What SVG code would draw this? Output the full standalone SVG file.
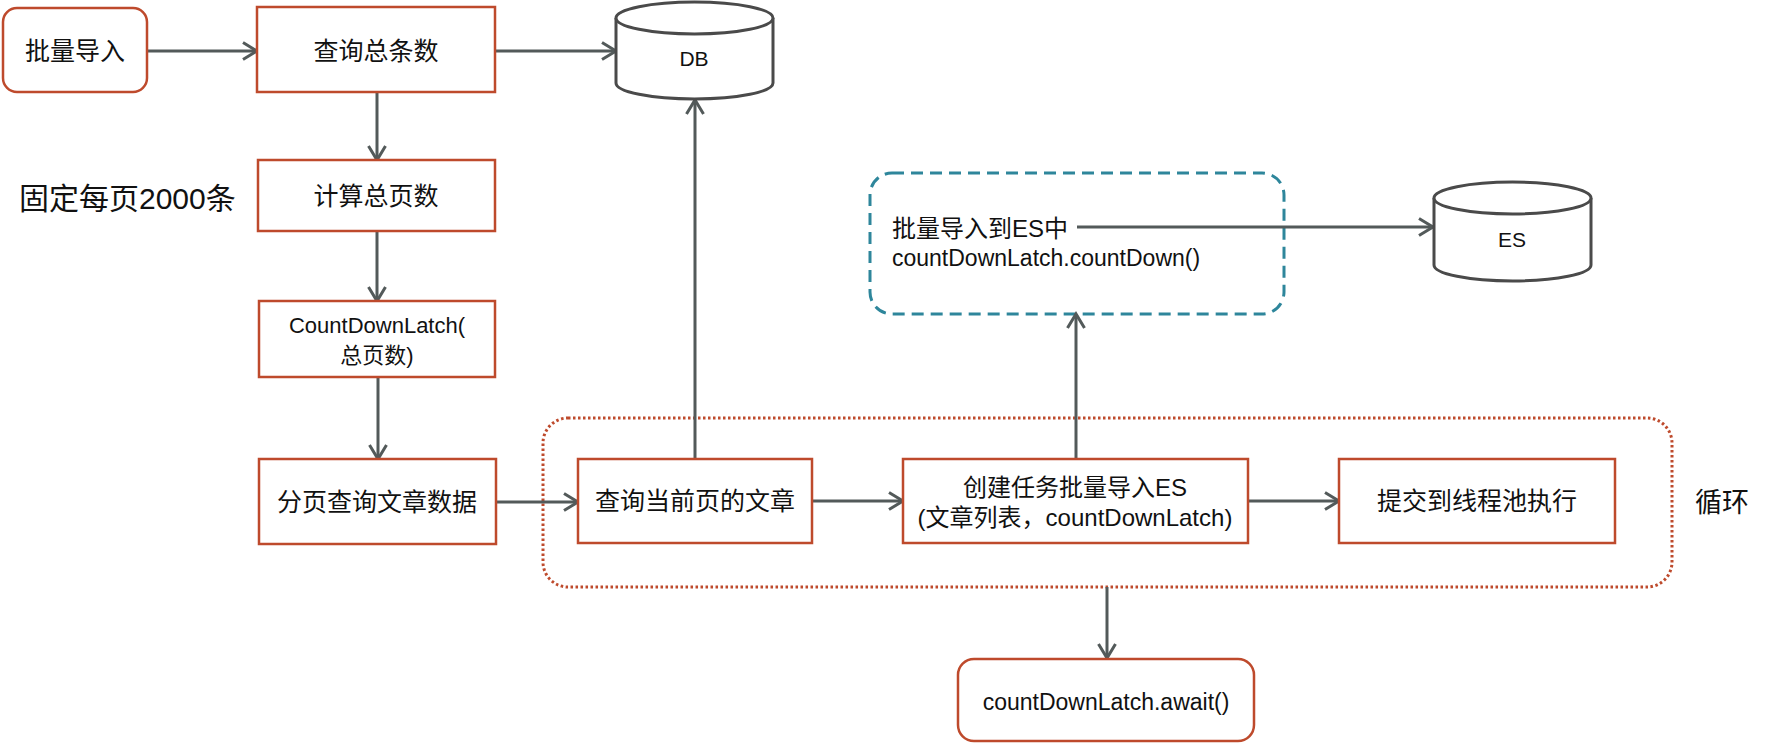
<svg xmlns="http://www.w3.org/2000/svg" width="1789" height="743" viewBox="0 0 1789 743">
<style>
text{font-family:"Liberation Sans","Noto Sans CJK SC",sans-serif;fill:#111;dominant-baseline:central}
.c{text-anchor:middle}
.box{fill:#fff;stroke:#BE4A2C;stroke-width:2.5}
.cyl{fill:#fff;stroke:#4a4a4a;stroke-width:3}
.conn{fill:none;stroke:#535a5a;stroke-width:3}
</style>
<defs>
<marker id="arr" viewBox="0 0 20 20" refX="17" refY="10" markerWidth="20" markerHeight="20" markerUnits="userSpaceOnUse" orient="auto">
<path d="M3,1.5 L17,10 L3,18.5" fill="none" stroke="#535a5a" stroke-width="3"/>
</marker>
</defs>
<rect width="1789" height="743" fill="#fff"/>

<g id="loop">
<rect x="543" y="418" width="1129" height="169" rx="25" fill="none" stroke="#BE4A2C" stroke-width="3" stroke-dasharray="2.5 2.5"/>
<text x="1695" y="503" font-size="27">循环</text>
</g>

<g id="esTask">
<rect x="870" y="173" width="414" height="141" rx="22" fill="none" stroke="#2E869B" stroke-width="3" stroke-dasharray="12 7"/>
<text x="892" y="228" font-size="24">批量导入到ES中</text>
<text x="892" y="258" font-size="23">countDownLatch.countDown()</text>
</g>

<g id="connectors" class="conn" marker-end="url(#arr)">
<path d="M147,51 H257"/>
<path d="M495,51 H616"/>
<path d="M377,92 V160"/>
<path d="M377,231 V301"/>
<path d="M378,377 V459"/>
<path d="M496,502 H578"/>
<path d="M695,459 V100"/>
<path d="M812,501 H903"/>
<path d="M1248,501 H1339"/>
<path d="M1076,459 V314"/>
<path d="M1107,587 V658"/>
<path d="M1077,227 H1433"/>
</g>

<g id="start">
<rect class="box" x="3" y="8" width="144" height="84" rx="14"/>
<text class="c" x="75" y="51" font-size="25">批量导入</text>
</g>
<g id="queryTotal">
<rect class="box" x="257" y="7" width="238" height="85"/>
<text class="c" x="376" y="51" font-size="25">查询总条数</text>
</g>
<g id="db">
<path class="cyl" d="M616,18 A78.5,16 0 0 1 773,18 V83 A78.5,16 0 0 1 616,83 Z"/>
<path class="cyl" fill="none" d="M616,18 A78.5,16 0 0 0 773,18"/>
<text class="c" x="694" y="58" font-size="21">DB</text>
</g>
<g id="pageSizeLabel">
<text x="19" y="198" font-size="30">固定每页2000条</text>
</g>
<g id="calcPages">
<rect class="box" x="258" y="160" width="237" height="71"/>
<text class="c" x="376" y="196" font-size="25">计算总页数</text>
</g>
<g id="latch">
<rect class="box" x="259" y="301" width="236" height="76"/>
<text class="c" x="377" y="325" font-size="22">CountDownLatch(</text>
<text class="c" x="377" y="355" font-size="22">总页数)</text>
</g>
<g id="pageQuery">
<rect class="box" x="259" y="459" width="237" height="85"/>
<text class="c" x="377" y="502" font-size="25">分页查询文章数据</text>
</g>
<g id="queryCurrent">
<rect class="box" x="578" y="459" width="234" height="84"/>
<text class="c" x="695" y="501" font-size="25">查询当前页的文章</text>
</g>
<g id="createTask">
<rect class="box" x="903" y="459" width="345" height="84"/>
<text class="c" x="1075" y="487" font-size="24">创建任务批量导入ES</text>
<text class="c" x="1075" y="517" font-size="24">(文章列表，countDownLatch)</text>
</g>
<g id="submit">
<rect class="box" x="1339" y="459" width="276" height="84"/>
<text class="c" x="1477" y="501" font-size="25">提交到线程池执行</text>
</g>
<g id="es">
<path class="cyl" d="M1434,198 A78.5,16 0 0 1 1591,198 V265 A78.5,16 0 0 1 1434,265 Z"/>
<path class="cyl" fill="none" d="M1434,198 A78.5,16 0 0 0 1591,198"/>
<text class="c" x="1512" y="239" font-size="21">ES</text>
</g>
<g id="await">
<rect class="box" x="958" y="659" width="296" height="82" rx="16"/>
<text class="c" x="1106" y="702" font-size="23">countDownLatch.await()</text>
</g>
</svg>
